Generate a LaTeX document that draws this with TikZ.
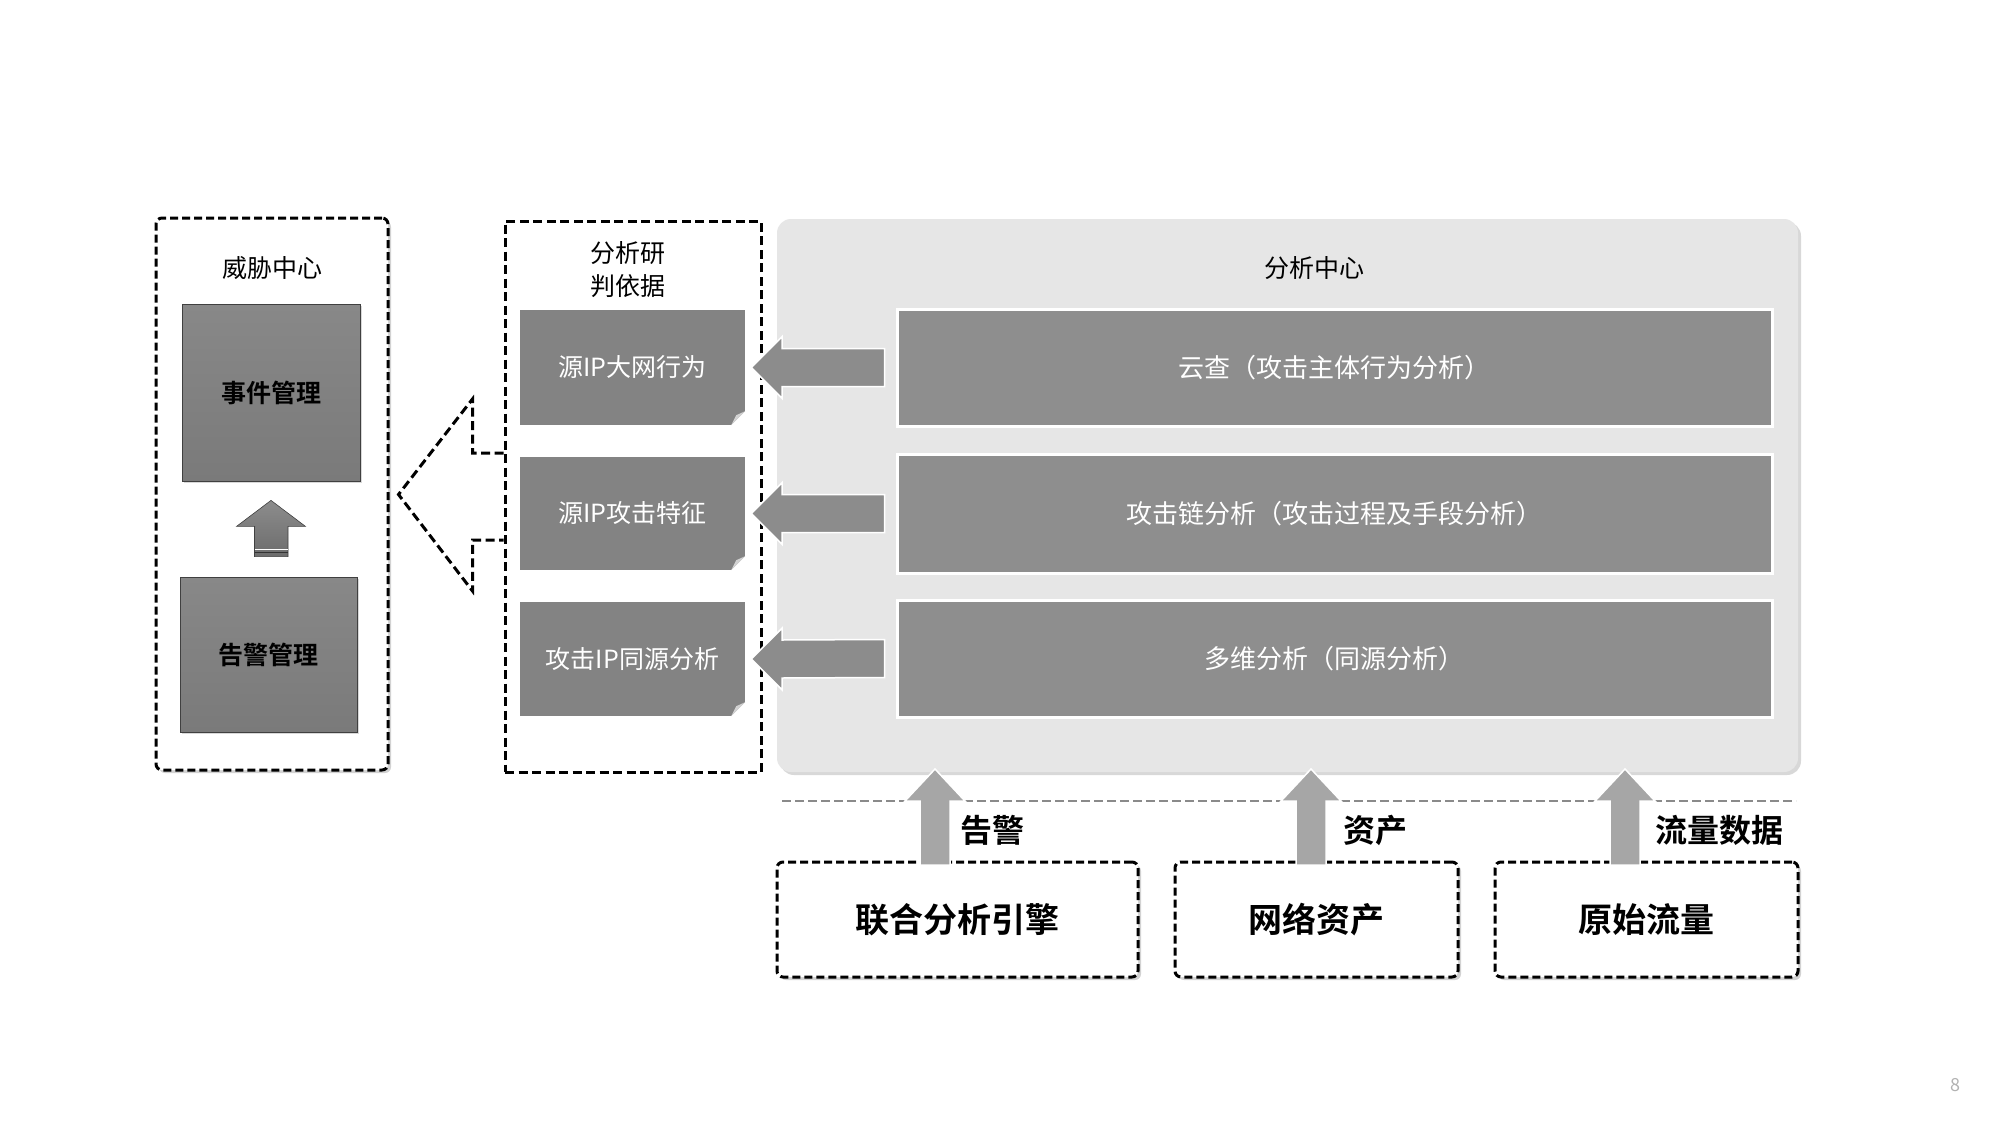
\documentclass[tikz,border=0pt]{standalone}
\usepackage{fontspec}
\setmainfont{Noto Sans CJK SC}[BoldFont={Noto Sans CJK SC Bold}]
\usetikzlibrary{shadows,calc}
\definecolor{bggray}{HTML}{E6E6E6}
\definecolor{innergray}{HTML}{8E8E8E}
\definecolor{leftgray}{HTML}{838383}
\definecolor{arrowgray}{HTML}{8C8C8C}
\definecolor{uparrowgray}{HTML}{A6A6A6}
\definecolor{linegray}{HTML}{8A8A8A}
\definecolor{mgmttop}{HTML}{888888}
\definecolor{mgmtbot}{HTML}{7A7A7A}
\tikzset{
  dashbox/.style={draw=black, line width=3pt, dash pattern=on 8pt off 4pt, fill=white,
    rounded corners=6pt, inner sep=0pt,
    drop shadow={shadow xshift=3pt, shadow yshift=-3pt, opacity=0.35, fill=gray}},
  sqdash/.style={draw=black, line width=3pt, dash pattern=on 9pt off 4.5pt},
  mgmtbox/.style={draw=gray!50!black, line width=0.8pt, top color=mgmttop, bottom color=mgmtbot,
    inner sep=0pt, font=\fontsize{25}{30}\selectfont\bfseries, text=black,
    drop shadow={shadow xshift=2pt, shadow yshift=-2pt, opacity=0.3}},
  leftbox/.style={fill=leftgray, inner sep=0pt, text=white, font=\fontsize{25}{28}\selectfont,
    minimum width=225pt},
  innerbox/.style={fill=innergray, draw=white, line width=3pt, inner sep=0pt, text=white,
    font=\fontsize{26}{30}\selectfont, minimum width=875pt},
  title/.style={font=\fontsize{25}{33}\selectfont, text=black, align=center},
  flowlabel/.style={font=\fontsize{32}{36}\selectfont\bfseries, text=black, anchor=west},
  srcbox/.style={dashbox, font=\fontsize{34}{40}\selectfont\bfseries, minimum height=115pt},
  leftarrow/.style={fill=arrowgray, draw=white, line width=1.5pt},
  uparrow/.style={fill=uparrowgray, draw=white, line width=1.5pt},
}
\begin{document}
\begin{tikzpicture}[x=1pt,y=-1pt]
\useasboundingbox (0,0) rectangle (2000,1124);
\fill[white] (0,0) rectangle (2000,1124);

% ---------- threat center ----------
\node[dashbox, minimum width=232pt, minimum height=552pt] (threat) at (272,494) {};
\node[title] (threatT) at (272,268) {威胁中心};
\node[mgmtbox, minimum width=178pt, minimum height=177pt] (event) at (271,392.5) {事件管理};
\node[mgmtbox, minimum width=177pt, minimum height=155pt] (alarm) at (268.5,654.5) {告警管理};
% small up arrow from alarm to event
\coordinate (sa) at ($(event.south)+(0,19)$);
\coordinate (sb) at ($(alarm.north)+(2,-20)$);
\path[top color=gray!90!white, bottom color=gray!85!black, draw=gray!50!black, line width=0.6pt]
  (sa) -- ($(sa)+(34.5,26)$) -- ($(sa)+(17,26)$) |- ($(sb)+(17,0)$) -- ($(sb)+(-16,0)$)
  |- ($(sa)+(-16,26)$) -- ($(sa)+(-34.5,26)$) -- cycle;
\draw[white, line width=1pt] ($(sb)+(-16,-7)$) -- ($(sb)+(17,-7)$);
\draw[gray!40!black, line width=0.8pt] ($(sb)+(-16,-4)$) -- ($(sb)+(17,-4)$);

% ---------- evidence box ----------
\node[sqdash, minimum width=256pt, minimum height=551pt, inner sep=0pt] (evid) at (633,496.5) {};
\node[title] (evidT) at (628,270) {分析研\\判依据};
\node[leftbox, minimum height=115pt] (l1) at (632.5,367.5) {源IP大网行为};
\node[leftbox, minimum height=113pt] (l2) at (632.5,513.5) {源IP攻击特征};
\node[leftbox, minimum height=114pt] (l3) at (632.5,659) {攻击IP同源分析};
\foreach \b in {l1,l2,l3}{
  \fill[white] ($(\b.south east)+(-14,0)$) -- ($(\b.south east)+(0,-14)$) -- (\b.south east) -- cycle;
  \fill[gray!35!white] ($(\b.south east)+(-14,0)$) -- ($(\b.south east)+(0,-14)$) -- ($(\b.south east)+(-9,-10)$) -- cycle;
}

% big dashed arrow to threat center
\coordinate (ba) at ($(evid.west)+(0,-43.5)$);
\coordinate (bb) at ($(evid.west)+(0,43.5)$);
\draw[sqdash, line join=miter] (ba) -- ($(ba)+(-31,0)$) -- ($(ba)+(-31,-54)$) -- ($(threat.east)+(9,0.5)$)
  -- ($(bb)+(-31,51)$) -- ($(bb)+(-31,0)$) -- (bb);

% ---------- analysis center ----------
\node[fill=bggray, rounded corners=14pt, minimum width=1021pt, minimum height=553pt, inner sep=0pt,
  drop shadow={shadow xshift=3pt, shadow yshift=-3pt, opacity=0.3, fill=gray}] (ana) at (1287.5,495.5) {};
\node[title] (anaT) at (1314,268) {分析中心};
\node[innerbox, minimum height=117pt] (c1) at (1334.5,367.5) {云查（攻击主体行为分析）};
\node[innerbox, minimum height=119pt] (c2) at (1334.5,513.5) {攻击链分析（攻击过程及手段分析）};
\node[innerbox, minimum height=117pt] (c3) at (1334.5,658.5) {多维分析（同源分析）};

% left arrows from analysis rows to evidence rows
\foreach \c/\l in {c1/l1,c2/l2,c3/l3}{
  \path[leftarrow] ($(\c.west)+(-11,-19)$) -- ($(\l.east)+(37,-19)$) -- ($(\l.east)+(37,-31)$)
    -- ($(\l.east)+(6,0)$) -- ($(\l.east)+(37,31)$) -- ($(\l.east)+(37,19)$)
    -- ($(\c.west)+(-11,19)$) -- cycle;
}

% ---------- sources ----------
\draw[linegray, line width=2.5pt, dash pattern=on 9pt off 4pt] (782,801) -- (1796,801);
\node[srcbox, minimum width=361pt] (s1) at (957.5,919.5) {联合分析引擎};
\node[srcbox, minimum width=283pt] (s2) at (1316.5,919.5) {网络资产};
\node[srcbox, minimum width=303pt] (s3) at (1646.5,919.5) {原始流量};

\foreach \s/\x in {s1/935,s2/1311,s3/1625}{
  \coordinate (bot) at (\x,865);
  \path[uparrow] ($(bot)+(-15,0)$) -- ($(bot)+(-15,-64)$) -- ($(bot)+(-30,-64)$) -- ($(bot)+(0,-96)$)
    -- ($(bot)+(30,-64)$) -- ($(bot)+(15,-64)$) -- ($(bot)+(15,0)$) -- cycle;
}
\node[flowlabel] (f1) at (957,830) {告警};
\node[flowlabel] (f2) at (1340,830) {资产};
\node[flowlabel] (f3) at (1652,830) {流量数据};

\node[text=gray!60, font=\fontsize{18}{20}\selectfont] (pg) at (1955,1085) {8};
\end{tikzpicture}
\end{document}
